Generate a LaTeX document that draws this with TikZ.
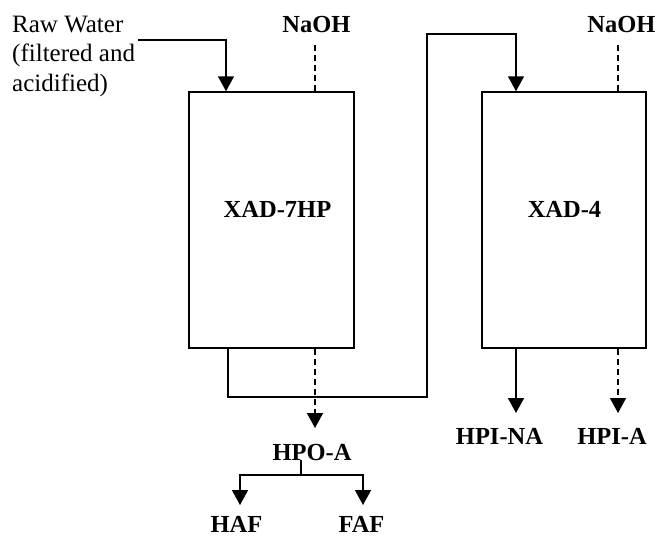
\documentclass[tikz,border=0pt]{standalone}
\usepackage{fontspec}
\setmainfont{Liberation Serif}
\usetikzlibrary{arrows.meta}
\begin{document}
\begin{tikzpicture}[x=1pt,y=-1pt,
  line/.style={line width=1.5pt},
  flow/.style={line, -{Triangle[length=15pt,width=16pt]}},
  dline/.style={line, dash pattern=on 6pt off 4pt},
  dflow/.style={flow, dash pattern=on 6pt off 4pt},
  column/.style={draw, line width=1.5pt, inner sep=0pt},
  lab/.style={font=\fontsize{24.5}{29}\selectfont\bfseries, inner sep=0pt, anchor=base},
  plain/.style={font=\fontsize{25}{29.5}\selectfont, inner sep=0pt, align=left, anchor=base west}
]
\useasboundingbox (0,0) rectangle (658,536);

% columns
\node[column, minimum width=165pt, minimum height=256pt] (b1) at (271.5,220) {};
\node[column, minimum width=164pt, minimum height=256pt] (b2) at (564,220) {};

% labels
\node[lab] (x7) at (277.5,217) {XAD-7HP};
\node[lab] (x4) at (564.5,217) {XAD-4};
\node[lab] (n1) at (316.5,32) {NaOH};
\node[lab] (n2) at (621.5,32) {NaOH};
\node[lab] (hpoa) at (312,460) {HPO-A};
\node[lab] (haf) at (236.5,532) {HAF};
\node[lab] (faf) at (361.5,532) {FAF};
\node[lab] (hpina) at (499.5,444) {HPI-NA};
\node[lab] (hpia) at (612,444) {HPI-A};
\node[plain] (raw) at (12,91) {Raw Water\\(filtered and\\acidified)};

% raw water feed
\coordinate (rwS) at (138,40);
\draw[flow] (rwS) -| (b1.north -| 226,0);

% NaOH dashed feeds
\coordinate (n1a) at (315,45);
\coordinate (n2a) at (618,45);
\draw[dline] (n1a) -- (n1a |- b1.north);
\draw[dline] (n2a) -- (n2a |- b2.north);

% transfer from column 1 to column 2
\coordinate (t1) at (427,397);
\coordinate (t2) at (516,34);
\draw[flow] (b1.south -| 228,0) |- (t1) |- (t2) -- (t2 |- b2.north);

% HPO-A eluate
\coordinate (hpoT) at (315,428);
\draw[dflow] (b1.south -| hpoT) -- (hpoT);

% HPO-A split
\coordinate (sp) at (301,475);
\coordinate (hafT) at (240,505);
\coordinate (fafT) at (363,505);
\draw[line] (hpoa.south -| sp) -- (sp);
\draw[flow] (sp) -| (hafT);
\draw[flow] (sp) -| (fafT);

% column 2 outputs
\coordinate (naT) at (516,413);
\coordinate (aT) at (618,413);
\draw[flow] (b2.south -| naT) -- (naT);
\draw[dflow] (b2.south -| aT) -- (aT);
\end{tikzpicture}
\end{document}
